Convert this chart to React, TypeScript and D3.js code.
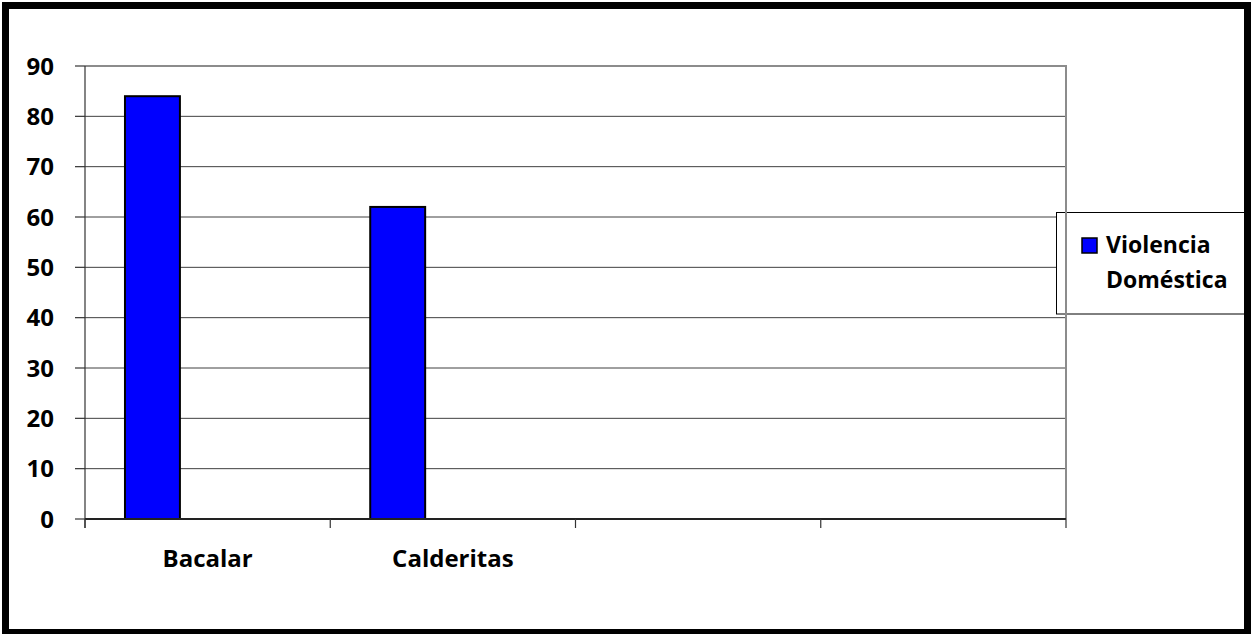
import React from "react";
import * as d3 from "d3";

const categories = ["Bacalar", "Calderitas", "", ""];
const values: (number | null)[] = [84, 62, null, null];
const yTicks = [0, 10, 20, 30, 40, 50, 60, 70, 80, 90];
const legendLines = ["Violencia", "Doméstica"];

const W = 1251;
const H = 634;
const FONT = "'Open Sans', Lato, sans-serif";

export default function App() {
  const left = 85, right = 1066, top = 66, bottom = 519;
  const x = d3.scaleBand<number>().domain(d3.range(categories.length)).range([left, right]).padding(0);
  const y = d3.scaleLinear().domain([0, 90]).range([bottom, top]);
  const bw = x.bandwidth();
  const barOff = bw * 0.163;
  const barW = bw * 0.224;

  return (
    <svg width={W} height={H} style={{ position: "absolute", left: 0, top: 0 }} fontFamily={FONT}>
      <rect x={0} y={0} width={W} height={H} fill="#fff" />
      {/* gridlines */}
      {yTicks.filter((t) => t > 0 && t < 90).map((t) => (
        <line key={t} x1={left} x2={right} y1={y(t)} y2={y(t)} stroke="#404040" strokeWidth={1} />
      ))}
      {/* plot border top */}
      <line x1={left} x2={right} y1={top} y2={top} stroke="#8c8c8c" strokeWidth={2} />
      {/* bars */}
      {values.map((v, i) =>
        v == null ? null : (
          <rect key={i} x={x(i)! + barOff} y={y(v)} width={barW} height={y(0) - y(v)} fill="#0000ff" stroke="#000" strokeWidth={2} />
        )
      )}
      {/* legend */}
      <rect x={1056.5} y={212.5} width={200} height={101.5} fill="#fff" stroke="#000" strokeWidth={1} />
      <rect x={1082} y={238} width={15} height={15} fill="#0000ff" stroke="#000" strokeWidth={1.5} />
      <text x={1106} y={253} fontSize={23} fontWeight="bold" fill="#000">{legendLines[0]}</text>
      <text x={1106} y={288} fontSize={23} fontWeight="bold" fill="#000">{legendLines[1]}</text>
      {/* plot border right */}
      <line x1={right} x2={right} y1={top - 1} y2={bottom} stroke="#8c8c8c" strokeWidth={2} />
      {/* y axis */}
      <line x1={left} x2={left} y1={top} y2={bottom + 9} stroke="#333" strokeWidth={1.2} />
      {yTicks.map((t) => (
        <g key={t}>
          <line x1={left - 10} x2={left} y1={y(t)} y2={y(t)} stroke="#333" strokeWidth={1.2} />
          <text x={54} y={y(t)} dy="0.36em" textAnchor="end" fontSize={24} fontWeight="bold" fill="#000">{t}</text>
        </g>
      ))}
      {/* x axis */}
      <line x1={left} x2={right} y1={bottom} y2={bottom} stroke="#222" strokeWidth={1.8} />
      {d3.range(categories.length + 1).map((i) => {
        const xx = i < categories.length ? x(i)! : right;
        return <line key={i} x1={xx} x2={xx} y1={bottom} y2={bottom + 9} stroke="#333" strokeWidth={1.2} />;
      })}
      {categories.map((c, i) => (
        <text key={i} x={x(i)! + bw / 2} y={567} textAnchor="middle" fontSize={24} fontWeight="bold" fill="#000">{c}</text>
      ))}
      {/* outer border */}
      <rect x={5.5} y={5.5} width={1242} height={627} fill="none" stroke="#000" strokeWidth={7} />
    </svg>
  );
}
